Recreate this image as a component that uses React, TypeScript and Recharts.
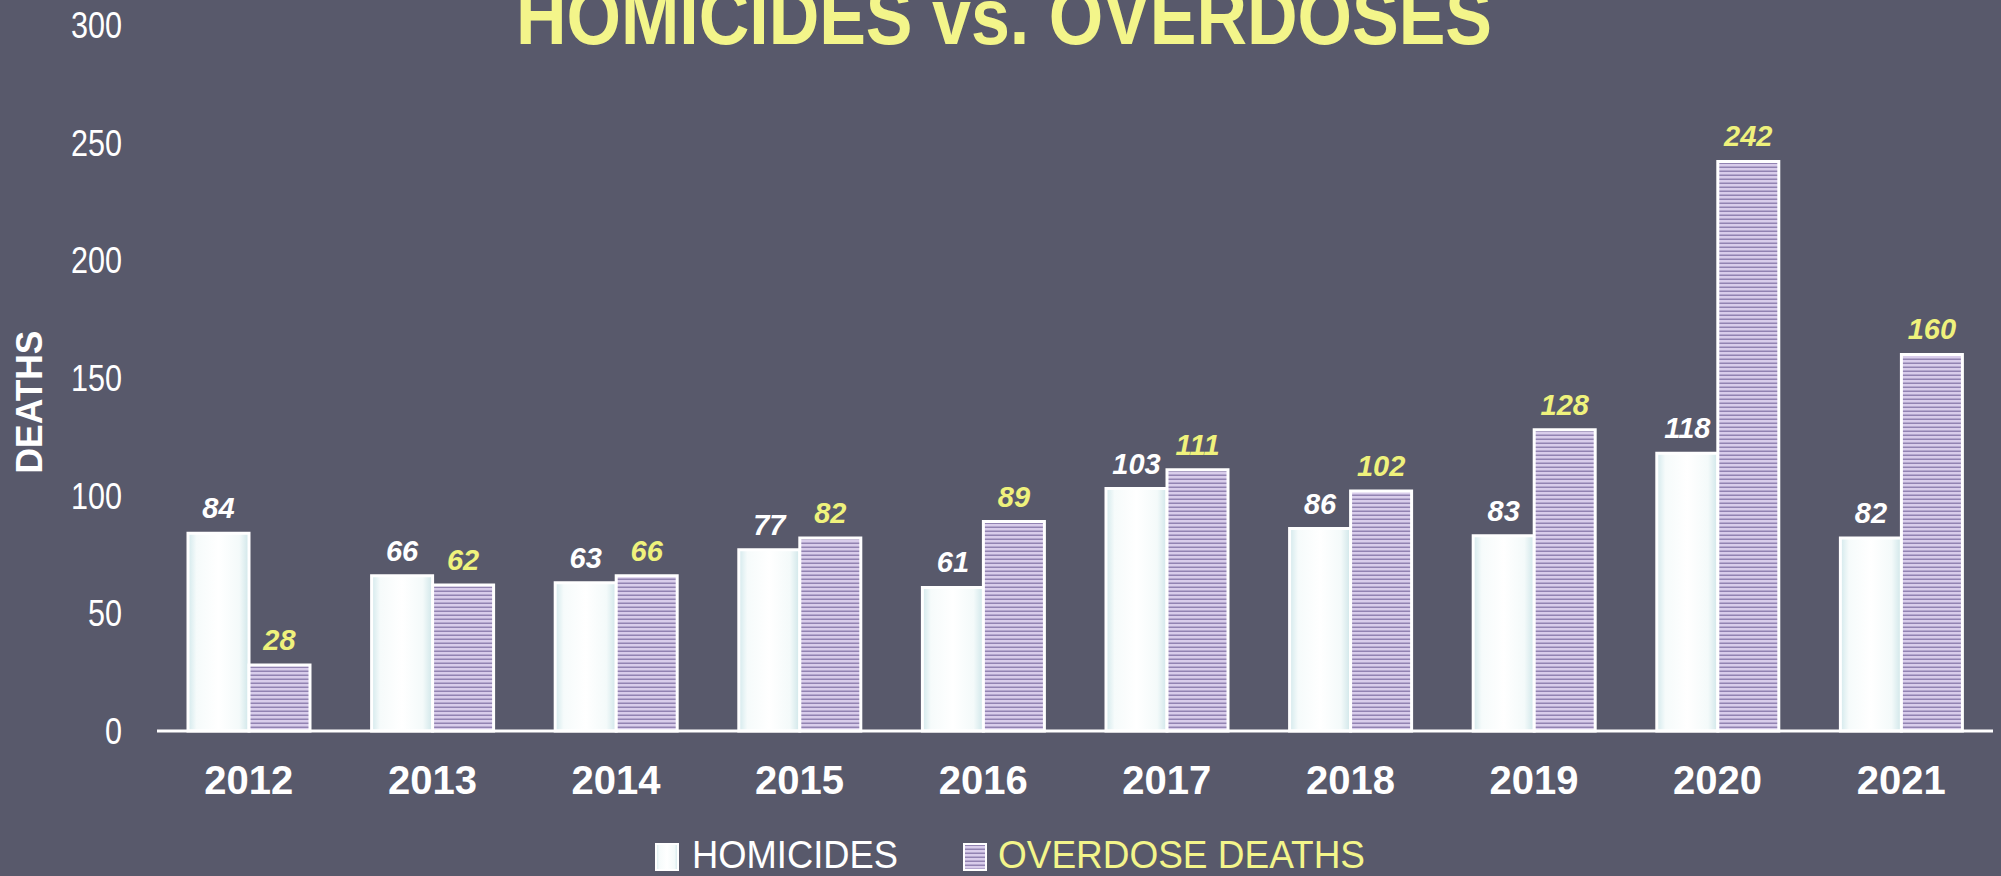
import React from "react";
import { BarChart, Bar, XAxis, YAxis, Legend, LabelList } from "recharts";

// Homicides vs. overdose deaths, yearly counts
const YEARS = ["2012", "2013", "2014", "2015", "2016", "2017", "2018", "2019", "2020", "2021"];
const HOMICIDES = [84, 66, 63, 77, 61, 103, 86, 83, 118, 82];
const OVERDOSES = [28, 62, 66, 82, 89, 111, 102, 128, 242, 160];
const Y_TICKS = [0, 50, 100, 150, 200, 250, 300];

const BG = "#58596b";
const YELLOW = "#f3f58a";
const LABEL_YELLOW = "#eff27c";
const SANS = "'Liberation Sans', Arial, sans-serif";
const NARROW = "'Liberation Sans Narrow', 'Liberation Sans', sans-serif";

const data = YEARS.map((year, i) => ({ year, homicides: HOMICIDES[i], overdoses: OVERDOSES[i] }));

const XTick = ({ x, y, payload }: any) => (
  <text x={x} y={y + 63} textAnchor="middle" fill="#fff" fontFamily={SANS} fontWeight="bold" fontSize={40}>
    {payload.value}
  </text>
);

// condensed digits: ~17px per character
const YTick = ({ x, y, payload }: any) => {
  const s = String(payload.value);
  return (
    <text
      x={x - 35} y={y + 13} textAnchor="end" fill="#fff" fontFamily={NARROW} fontSize={37}
      textLength={s.length * 17} lengthAdjust="spacingAndGlyphs"
    >
      {s}
    </text>
  );
};

const DeathsLabel = () => (
  <text
    x={42} y={402} transform="rotate(-90 42 402)" textAnchor="middle"
    fill="#fff" fontFamily={SANS} fontWeight="bold" fontSize={37}
    textLength={143} lengthAdjust="spacingAndGlyphs"
  >
    DEATHS
  </text>
);

const LegendBox = () => (
  <svg width={1993} height={50} style={{ display: "block" }}>
    <rect x={656} y={18} width={22} height={26} fill="url(#homGrad)" stroke="#fff" strokeWidth={2} />
    <text x={692} y={42} fill="#fff" fontFamily={NARROW} fontSize={39} textLength={206} lengthAdjust="spacingAndGlyphs">
      HOMICIDES
    </text>
    <rect x={964} y={18} width={22} height={26} fill="url(#odStripes)" stroke="#fff" strokeWidth={2} />
    <text x={998} y={42} fill={YELLOW} fontFamily={NARROW} fontSize={39} textLength={367} lengthAdjust="spacingAndGlyphs">
      OVERDOSE DEATHS
    </text>
  </svg>
);

const labelStyle = (fill: string) => ({
  fill, fontFamily: SANS, fontWeight: "bold" as const, fontStyle: "italic" as const, fontSize: 29,
});

export default function App() {
  return (
    <div style={{ position: "absolute", left: 0, top: 0, width: 2001, height: 876, background: BG, overflow: "hidden" }}>
      <svg width={2001} height={876} style={{ position: "absolute", left: 0, top: 0 }}>
        <defs>
          <linearGradient id="homGrad" x1="0" y1="0" x2="1" y2="0">
            <stop offset="0%" stopColor="#d3e9ec" />
            <stop offset="14%" stopColor="#f6fbfb" />
            <stop offset="50%" stopColor="#ffffff" />
            <stop offset="84%" stopColor="#f4fafa" />
            <stop offset="100%" stopColor="#cfe6e9" />
          </linearGradient>
          <pattern id="odStripes" width={8} height={4} patternUnits="userSpaceOnUse">
            <rect width={8} height={4} fill="#d9cdeb" />
            <rect y={2.5} width={8} height={1.5} fill="#9283b2" />
          </pattern>
        </defs>
      </svg>
      <div style={{ position: "absolute", left: 0, top: 0 }}>
        <BarChart
          width={2001} height={876} data={data}
          margin={{ top: 25, right: 8, left: 0, bottom: 0 }}
          barSize={61} barGap={0}
        >
          <XAxis
            dataKey="year" height={95} tick={<XTick />} tickLine={false} tickSize={0} tickMargin={0}
            axisLine={{ stroke: "#fff", strokeWidth: 3 }}
          />
          <YAxis
            width={157} domain={[0, 300]} ticks={Y_TICKS} tick={<YTick />}
            axisLine={false} tickLine={false} tickSize={0} tickMargin={0}
            label={<DeathsLabel />}
          />
          <Legend verticalAlign="bottom" height={50} content={<LegendBox />} />
          <Bar dataKey="homicides" name="HOMICIDES" fill="url(#homGrad)" stroke="#fff" strokeWidth={3} isAnimationActive={false}>
            <LabelList dataKey="homicides" position="top" offset={15} style={labelStyle("#fff")} />
          </Bar>
          <Bar dataKey="overdoses" name="OVERDOSE DEATHS" fill="url(#odStripes)" stroke="#fff" strokeWidth={3} isAnimationActive={false}>
            <LabelList dataKey="overdoses" position="top" offset={15} style={labelStyle(LABEL_YELLOW)} />
          </Bar>
        </BarChart>
      </div>
      <svg width={2001} height={876} style={{ position: "absolute", left: 0, top: 0, pointerEvents: "none" }}>
        <text
          x={516} y={44} fill={YELLOW} fontFamily={SANS} fontWeight="bold" fontSize={80}
          textLength={976} lengthAdjust="spacingAndGlyphs"
        >
          HOMICIDES vs. OVERDOSES
        </text>
      </svg>
    </div>
  );
}
